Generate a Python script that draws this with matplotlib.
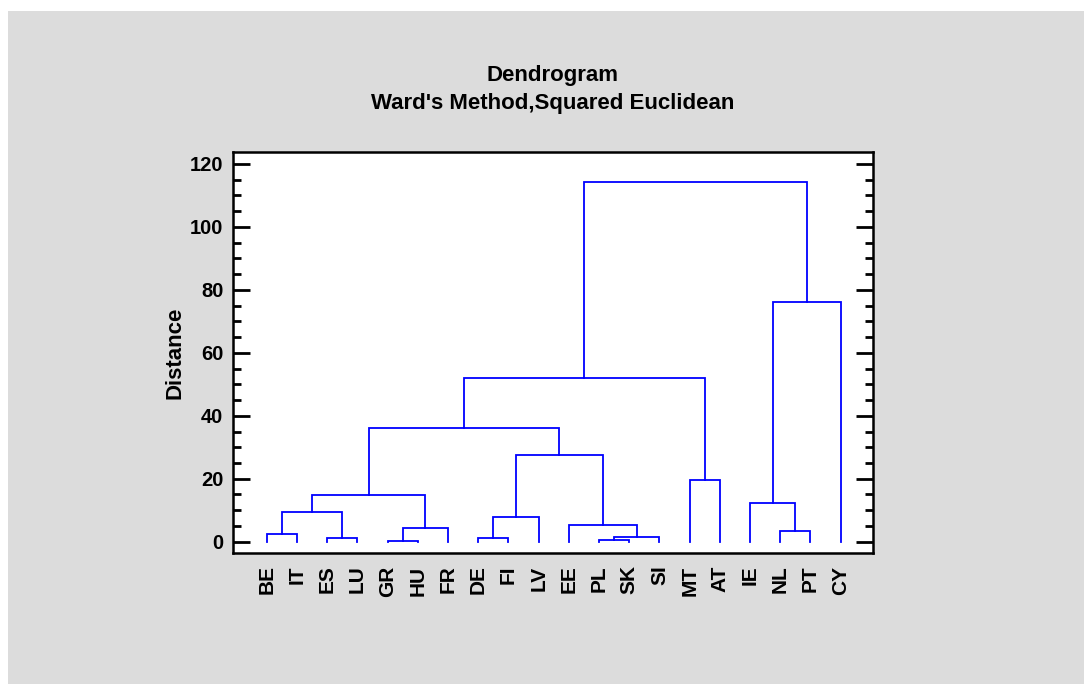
import matplotlib
matplotlib.use("Agg")
import matplotlib.pyplot as plt
from matplotlib.patches import Rectangle
from matplotlib.ticker import MultipleLocator

plt.rcParams['font.family'] = ['Liberation Sans', 'DejaVu Sans']
plt.rcParams['font.weight'] = 'bold'

# leaves in plotted order
labels = ['BE', 'IT', 'ES', 'LU', 'GR', 'HU', 'FR', 'DE', 'FI', 'LV',
          'EE', 'PL', 'SK', 'SI', 'MT', 'AT', 'IE', 'NL', 'PT', 'CY']

# merges: (left node, right node, height); leaves are 0..19, new clusters 20..
merge_left = [0, 2, 20, 4, 23, 22, 7, 26, 11, 28, 10, 27, 25, 14, 32, 17, 16, 36, 34]
merge_right = [1, 3, 21, 5, 6, 24, 8, 9, 12, 13, 29, 30, 31, 15, 33, 18, 35, 19, 37]
merge_height = [2.4, 1.2, 9.3, 0.1, 4.3, 14.7, 1.1, 7.7, 0.5, 1.5, 5.4, 27.6,
                36.1, 19.6, 52.0, 3.4, 12.2, 76.3, 114.3]

title = "Dendrogram"
subtitle = "Ward's Method,Squared Euclidean"

fig = plt.figure(figsize=(10.84, 6.84), dpi=100)
fig.patch.set_facecolor('white')
fig.patches.append(Rectangle((8 / 1084, 0), 1, 1 - 11 / 684, transform=fig.transFigure,
                             facecolor='#dcdcdc', edgecolor='none', zorder=-1))

ax = fig.add_axes([233 / 1084, 1 - 553 / 684, 640 / 1084, 401 / 684])
ax.set_facecolor('white')

pos = {i: float(i) for i in range(len(labels))}
hgt = {i: 0.0 for i in range(len(labels))}
node = len(labels)
for a, b, h in zip(merge_left, merge_right, merge_height):
    xa, xb = pos[a], pos[b]
    ax.plot([xa, xa, xb, xb], [hgt[a], h, h, hgt[b]], color='#0000ff', lw=1.3,
            solid_joinstyle='miter')
    pos[node] = (xa + xb) / 2
    hgt[node] = h
    node += 1

ax.set_xlim(-1.12, 20.07)
ax.set_ylim(-3.6, 123.8)
ax.set_xticks(range(len(labels)))
ax.set_xticklabels(labels, rotation=90, fontsize=15, fontweight='bold')
ax.tick_params(axis='x', length=0, pad=9)
ax.yaxis.set_major_locator(MultipleLocator(20))
ax.yaxis.set_minor_locator(MultipleLocator(5))
ax.tick_params(axis='y', which='both', direction='in', left=True, right=True,
               labelsize=14.5, width=2, pad=7)
ax.tick_params(axis='y', which='major', length=12)
ax.tick_params(axis='y', which='minor', length=6)
for lbl in ax.get_yticklabels():
    lbl.set_fontweight('bold')
for s in ax.spines.values():
    s.set_linewidth(1.8)

ax.set_ylabel('Distance', fontsize=16, fontweight='bold')
ax.yaxis.set_label_coords((186 - 233) / 640, 0.5)

fig.text(553 / 1084, 1 - 75 / 684, title, ha='center', va='center',
         fontsize=16, fontweight='bold')
fig.text(553 / 1084, 1 - 103 / 684, subtitle, ha='center', va='center',
         fontsize=16, fontweight='bold')

fig.savefig('out.png', dpi=100, facecolor=fig.get_facecolor())
